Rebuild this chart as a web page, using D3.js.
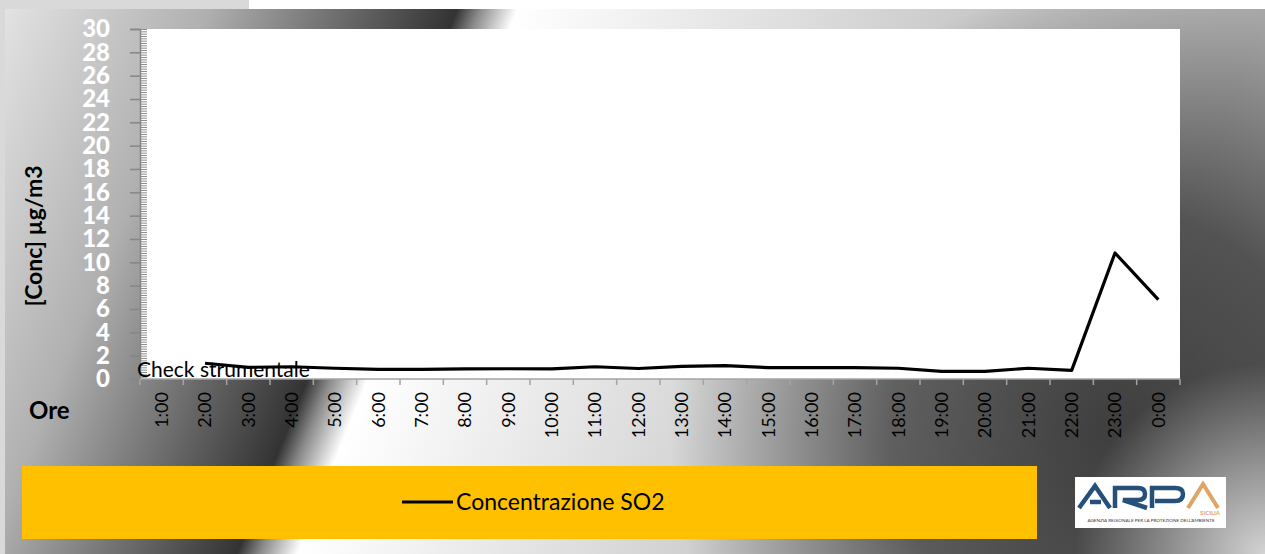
<!DOCTYPE html>
<html>
<head>
<meta charset="utf-8">
<script src="https://cdn.jsdelivr.net/npm/d3@7"></script>
<style>
  body { margin: 0; background: #ffffff; overflow: hidden; }
  svg { display: block; font-family: Lato, "Open Sans", sans-serif; }
</style>
</head>
<body>
<svg id="chart" width="1265" height="554"></svg>
<script>
// SO2 hourly concentration

var hours = ["1:00", "2:00", "3:00", "4:00", "5:00", "6:00", "7:00", "8:00", "9:00", "10:00", "11:00", "12:00",
  "13:00", "14:00", "15:00", "16:00", "17:00", "18:00", "19:00", "20:00", "21:00", "22:00", "23:00", "0:00"];
var so2 = [null, 1.35, 1.0, 1.05, 0.92, 0.83, 0.83, 0.86, 0.88, 0.86, 1.05, 0.9,
  1.08, 1.15, 0.98, 0.97, 0.97, 0.92, 0.66, 0.66, 0.92, 0.74, 10.8, 6.8];
var yTicks = [0, 2, 4, 6, 8, 10, 12, 14, 16, 18, 20, 22, 24, 26, 28, 30];
var seriesName = "Concentrazione SO2";
var yTitle = "[Conc] µg/m3";
var xTitle = "Ore";
var note = "Check strumentale";

var svg = d3.select("#chart");
var defs = svg.append("defs");

// background gradients
var lg = defs.append("linearGradient")
  .attr("id", "metal")
  .attr("gradientUnits", "userSpaceOnUse")
  .attr("x1", 0).attr("y1", 0)
  .attr("x2", 1299).attr("y2", 525);
[[0, "#e4e4e4"], [0.14, "#b0b0b0"], [0.305, "#333333"], [0.32, "#8a8a8a"], [0.345, "#ffffff"],
  [0.84, "#a6a6a6"], [1, "#a0a0a0"]].forEach(function (s) {
  lg.append("stop").attr("offset", s[0]).attr("stop-color", s[1]);
});

var rgDark = defs.append("radialGradient")
  .attr("id", "shade")
  .attr("gradientUnits", "userSpaceOnUse")
  .attr("cx", 1110).attr("cy", 430).attr("r", 440);
rgDark.append("stop").attr("offset", 0).attr("stop-color", "#000").attr("stop-opacity", 0.62);
rgDark.append("stop").attr("offset", 0.5).attr("stop-color", "#000").attr("stop-opacity", 0.5);
rgDark.append("stop").attr("offset", 1).attr("stop-color", "#000").attr("stop-opacity", 0);

var rgLight = defs.append("radialGradient")
  .attr("id", "shine")
  .attr("gradientUnits", "userSpaceOnUse")
  .attr("cx", 1265).attr("cy", 554).attr("r", 190);
rgLight.append("stop").attr("offset", 0).attr("stop-color", "#fff").attr("stop-opacity", 0.75);
rgLight.append("stop").attr("offset", 1).attr("stop-color", "#fff").attr("stop-opacity", 0);

svg.append("rect").attr("x", 0).attr("y", 0).attr("width", 249).attr("height", 554).attr("fill", "#d9d9d9");
svg.append("rect").attr("x", 5).attr("y", 9).attr("width", 1260).attr("height", 545).attr("fill", "url(#metal)");
svg.append("rect").attr("x", 5).attr("y", 9).attr("width", 1260).attr("height", 545).attr("fill", "url(#shade)");
svg.append("rect").attr("x", 5).attr("y", 9).attr("width", 1260).attr("height", 545).attr("fill", "url(#shine)");

// scales
var x = d3.scaleBand().domain(hours).range([140, 1180]);
var y = d3.scaleLinear().domain([0, 30]).range([379, 29]);

// plot area
svg.append("rect")
  .attr("x", x.range()[0]).attr("y", y(30))
  .attr("width", x.range()[1] - x.range()[0]).attr("height", y(0) - y(30))
  .attr("fill", "#ffffff");

// minor ticks (inside)
var minor = svg.append("g")
  .attr("transform", "translate(" + x.range()[0] + ",0)")
  .call(d3.axisRight(y).tickValues(d3.range(0, 30.01, 0.2)).tickSize(7).tickFormat(""));
minor.select(".domain").remove();
minor.selectAll("line").attr("stroke", "#8c8c8c");

// y axis
var yAxis = svg.append("g")
  .attr("transform", "translate(" + x.range()[0] + ",0)")
  .call(d3.axisLeft(y).tickValues(yTicks).tickSize(10).tickPadding(20));
yAxis.select(".domain").attr("stroke", "#868686").attr("stroke-width", 1.5);
yAxis.selectAll("line").attr("stroke", "#868686").attr("stroke-width", 1.5);
yAxis.selectAll("text")
  .attr("fill", "#ffffff")
  .attr("font-family", "Lato, sans-serif")
  .attr("font-weight", "900")
  .attr("font-size", "24px");

// x axis
var xAxis = svg.append("g");
xAxis.append("line")
  .attr("x1", x.range()[0]).attr("x2", x.range()[1])
  .attr("y1", y(0)).attr("y2", y(0))
  .attr("stroke", "#a3a3a3").attr("stroke-width", 1.5);
xAxis.selectAll(".xtick")
  .data(hours.concat(["end"]))
  .enter()
  .append("line")
  .attr("class", "xtick")
  .attr("x1", function (d, i) { return i < hours.length ? x(d) : x.range()[1]; })
  .attr("x2", function (d, i) { return i < hours.length ? x(d) : x.range()[1]; })
  .attr("y1", y(0)).attr("y2", y(0) + 6)
  .attr("stroke", "#a3a3a3").attr("stroke-width", 1.5);
xAxis.selectAll(".xlabel")
  .data(hours)
  .enter()
  .append("text")
  .attr("class", "xlabel")
  .attr("transform", function (d) {
    return "translate(" + (x(d) + x.bandwidth() / 2) + "," + (y(0) + 13) + ") rotate(-90)";
  })
  .attr("text-anchor", "end")
  .attr("dy", "0.35em")
  .attr("font-size", "18px")
  .attr("fill", "#000")
  .text(function (d) { return d; });

// axis titles
svg.append("text")
  .attr("transform", "translate(42,236) rotate(-90)")
  .attr("text-anchor", "middle")
  .attr("font-weight", "bold")
  .attr("font-size", "23px")
  .attr("fill", "#000")
  .text(yTitle);

svg.append("text")
  .attr("x", 29).attr("y", 419)
  .attr("font-weight", "bold")
  .attr("font-size", "24px")
  .attr("fill", "#000")
  .text(xTitle);

// note for missing hour
svg.append("text")
  .attr("x", 137).attr("y", 377)
  .attr("font-size", "21px")
  .attr("fill", "#000")
  .text(note);

// line
var line = d3.line()
  .defined(function (d) { return d != null; })
  .x(function (d, i) { return x(hours[i]) + x.bandwidth() / 2; })
  .y(function (d) { return y(d); });

svg.append("path")
  .datum(so2)
  .attr("fill", "none")
  .attr("stroke", "#000")
  .attr("stroke-width", 3.2)
  .attr("stroke-linejoin", "round")
  .attr("d", line);

// legend
svg.append("rect")
  .attr("x", 22).attr("y", 466).attr("width", 1015).attr("height", 73)
  .attr("fill", "#ffc000");
svg.append("line")
  .attr("x1", 402).attr("x2", 453).attr("y1", 502).attr("y2", 502)
  .attr("stroke", "#000").attr("stroke-width", 3.2);
svg.append("text")
  .attr("x", 456).attr("y", 510)
  .attr("font-size", "23px")
  .attr("fill", "#000")
  .text(seriesName);

// logo
var blue = "#24507a", orange = "#e0a467";
var logo = svg.append("g").attr("transform", "translate(1075,477)");
logo.append("rect").attr("width", 151).attr("height", 51).attr("fill", "#ffffff");
logo.append("path")
  .attr("d", "M4,31 L20,9 L35,31 M15,25 L26,25")
  .attr("fill", "none").attr("stroke", blue).attr("stroke-width", 4.5);
logo.append("path")
  .attr("d", "M40,31 V11 H63 Q70,11 70,17 Q70,23 63,23 H48 L72,31")
  .attr("fill", "none").attr("stroke", blue).attr("stroke-width", 4.5);
logo.append("path")
  .attr("d", "M77,31 V11 H100 Q108,11 108,17 Q108,24 100,24 H80")
  .attr("fill", "none").attr("stroke", blue).attr("stroke-width", 4.5);
logo.append("path")
  .attr("d", "M113,31 L128,7 L143,31")
  .attr("fill", "none").attr("stroke", orange).attr("stroke-width", 4);
logo.append("text")
  .attr("x", 145).attr("y", 38)
  .attr("text-anchor", "end")
  .attr("font-size", "6px")
  .attr("font-weight", "bold")
  .attr("fill", orange)
  .text("SICILIA");
logo.append("text")
  .attr("x", 76).attr("y", 45)
  .attr("text-anchor", "middle")
  .attr("font-size", "4.6px")
  .attr("fill", "#333")
  .text("AGENZIA REGIONALE PER LA PROTEZIONE DELL'AMBIENTE");
</script>
</body>
</html>
